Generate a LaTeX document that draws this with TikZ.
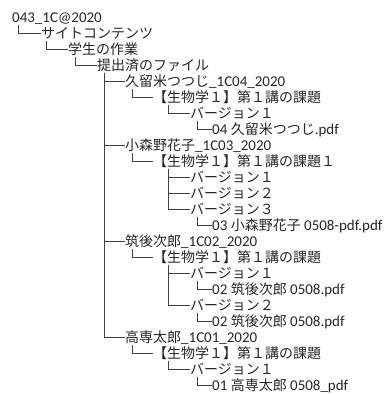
\documentclass[tikz,border=0pt]{standalone}
\usepackage{fontspec}
\setmainfont{Carlito}[Scale=1.07]
\newfontfamily\jp{Noto Sans CJK JP}
\begin{document}
\begin{tikzpicture}[x=1pt,y=-1pt,
  item/.style={anchor=west,inner sep=0pt,text height=12pt,text depth=2pt,font=\fontsize{14}{14}\selectfont,text=black!85},
  conn/.style={draw=black!75,line width=0.65pt}]
\useasboundingbox (0,0) rectangle (390,394);
\def\rowy#1{17.5+16*(#1-1)}
\node[item] (r0) at (12,{\rowy{1}}) {043\_1C@2020};
\node[item] (r1) at (41,{\rowy{2}}) {\jp サイトコンテンツ};
\node[item] (r2) at (68,{\rowy{3}}) {\jp 学生の作業};
\node[item] (r3) at (97,{\rowy{4}}) {\jp 提出済のファイル};
% Kurume
\node[item] (k)  at (125,{\rowy{5}}) {{\jp 久留米つつじ}\_1C04\_2020};
\node[item] (k1) at (153,{\rowy{6}}) {\jp 【生物学１】第１講の課題};
\node[item] (k2) at (190,{\rowy{7}}) {\jp バージョン１};
\node[item] (k3) at (212,{\rowy{8}}) {04 {\jp 久留米つつじ}.pdf};
% Komorino
\node[item] (m)  at (125,{\rowy{9}}) {{\jp 小森野花子}\_1C03\_2020};
\node[item] (m1) at (153,{\rowy{10}}) {\jp 【生物学１】第１講の課題１};
\node[item] (m2a) at (190,{\rowy{11}}) {\jp バージョン１};
\node[item] (m2b) at (190,{\rowy{12}}) {\jp バージョン２};
\node[item] (m2c) at (190,{\rowy{13}}) {\jp バージョン３};
\node[item] (m3) at (212,{\rowy{14}}) {03 {\jp 小森野花子} 0508-pdf.pdf};
% Chikugo
\node[item] (c)  at (125,{\rowy{15}}) {{\jp 筑後次郎}\_1C02\_2020};
\node[item] (c1) at (153,{\rowy{16}}) {\jp 【生物学１】第１講の課題};
\node[item] (c2a) at (190,{\rowy{17}}) {\jp バージョン１};
\node[item] (c3a) at (212,{\rowy{18}}) {02 {\jp 筑後次郎} 0508.pdf};
\node[item] (c2b) at (190,{\rowy{19}}) {\jp バージョン２};
\node[item] (c3b) at (212,{\rowy{20}}) {02 {\jp 筑後次郎} 0508.pdf};
% Kosen
\node[item] (t)  at (125,{\rowy{21}}) {{\jp 高専太郎}\_1C01\_2020};
\node[item] (t1) at (153,{\rowy{22}}) {\jp 【生物学１】第１講の課題};
\node[item] (t2) at (190,{\rowy{23}}) {\jp バージョン１};
\node[item] (t3) at (212,{\rowy{24}}) {01 {\jp 高専太郎} 0508\_pdf};
% connectors
\draw[conn] ([xshift=6]r0.south west) |- (r1.west);
\draw[conn] ([xshift=5]r1.south west) |- (r2.west);
\draw[conn] ([xshift=7]r2.south west) |- (r3.west);
\foreach \ch in {k,m,c,t} \draw[conn] ([xshift=7]r3.south west) |- (\ch.west);
\foreach \p in {k,m,c,t} \draw[conn] ([xshift=7]\p.south west) |- (\p1.west);
\draw[conn] ([xshift=15]k1.south west) |- (k2.west);
\draw[conn] ([xshift=7]k2.south west) |- (k3.west);
\foreach \ch in {m2a,m2b,m2c} \draw[conn] ([xshift=15]m1.south west) |- (\ch.west);
\draw[conn] ([xshift=7]m2c.south west) |- (m3.west);
\foreach \ch in {c2a,c2b} \draw[conn] ([xshift=15]c1.south west) |- (\ch.west);
\draw[conn] ([xshift=7]c2a.south west) |- (c3a.west);
\draw[conn] ([xshift=7]c2b.south west) |- (c3b.west);
\draw[conn] ([xshift=15]t1.south west) |- (t2.west);
\draw[conn] ([xshift=7]t2.south west) |- (t3.west);
\end{tikzpicture}
\end{document}
